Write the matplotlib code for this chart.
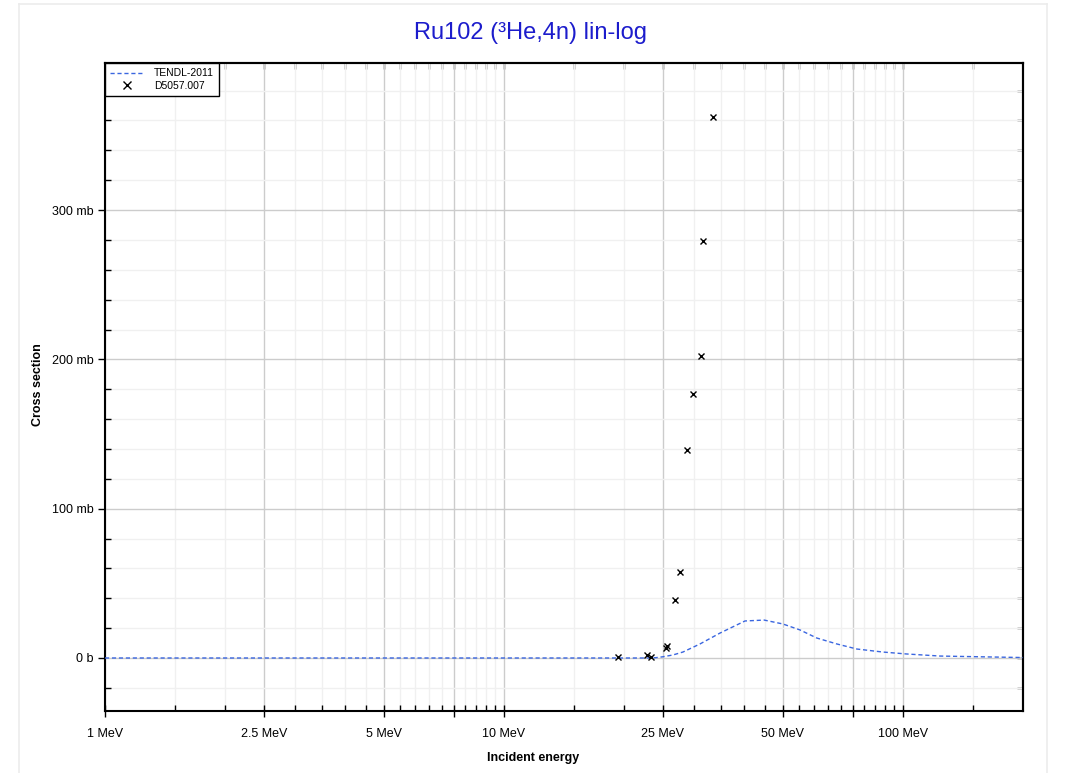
import matplotlib
matplotlib.use("Agg")
import matplotlib.pyplot as plt
from matplotlib.ticker import FixedLocator, FixedFormatter, NullFormatter
from matplotlib.lines import Line2D

plt.rcParams['font.family'] = ['Liberation Sans', 'DejaVu Sans']

# TENDL-2011 evaluated curve (MeV, mb)
tendl_energy = [1, 2, 5, 10, 15, 20, 23, 24, 25, 26.5, 28.1, 31, 34.8, 40.2, 44.9, 50, 55.2, 60.8, 68.3, 76.7, 89, 102, 124, 150, 200]
tendl_xs = [0, 0, 0, 0, 0, 0, 0, 0.2, 0.8, 2.0, 4.0, 9.4, 16.7, 24.8, 25.4, 22.8, 18.8, 13.4, 9.4, 6.0, 4.0, 2.7, 1.3, 0.9, 0.3]

# EXFOR D5057.007 data points (MeV, mb)
exp_energy = [19.3, 22.8, 23.4, 25.5, 25.6, 26.8, 27.6, 28.7, 29.8, 31.2, 31.5, 33.4]
exp_xs = [0.7, 2.0, 0.7, 6.7, 8.0, 39.0, 57.6, 139.0, 177.0, 202.0, 279.0, 362.0]

x_major = [1, 2.5, 5, 7.5, 10, 25, 50, 75, 100]
x_major_labels = ['1 MeV', '2.5 MeV', '5 MeV', '', '10 MeV', '25 MeV', '50 MeV', '', '100 MeV']
x_minor = [1.5, 2, 3, 3.5, 4, 4.5, 5.5, 6, 6.5, 7, 8, 8.5, 9, 9.5,
           15, 20, 30, 35, 40, 45, 55, 60, 65, 70, 80, 85, 90, 95, 150]
y_major = [0, 100, 200, 300]
y_major_labels = ['0 b', '100 mb', '200 mb', '300 mb']
y_minor = [-20, 20, 40, 60, 80, 120, 140, 160, 180, 220, 240, 260, 280, 320, 340, 360, 380]

W, H = 1071, 773
fig = plt.figure(figsize=(10.71, 7.73), dpi=100)
ax = fig.add_axes([105/W, 62/H, (1023-105)/W, (711-63)/H])

# outer light border
for xs, ys in [([19/W, 19/W], [0, 1-4/H]), ([19/W, 1047/W], [1-4/H, 1-4/H]), ([1047/W, 1047/W], [1-4/H, 0])]:
    fig.add_artist(Line2D(xs, ys, color='#ececec', lw=1.2, transform=fig.transFigure))

ax.plot(tendl_energy, tendl_xs, color='#3a66e0', lw=1.0, ls=(0, (3, 2)), label='TENDL-2011', zorder=3)
ax.plot(exp_energy, exp_xs, ls='none', marker='x', color='black', ms=3.8, mew=1.0, label='D5057.007', zorder=4)

ax.set_xscale('log')
ax.set_xlim(1, 200)
ax.set_ylim(-35.5, 398.5)

ax.xaxis.set_major_locator(FixedLocator(x_major))
ax.xaxis.set_major_formatter(FixedFormatter(x_major_labels))
ax.xaxis.set_minor_locator(FixedLocator(x_minor))
ax.xaxis.set_minor_formatter(NullFormatter())
ax.yaxis.set_major_locator(FixedLocator(y_major))
ax.yaxis.set_major_formatter(FixedFormatter(y_major_labels))
ax.yaxis.set_minor_locator(FixedLocator(y_minor))

ax.grid(which='major', color='#cccccc', lw=1.0, zorder=0)
ax.grid(which='minor', color='#f0f0f0', lw=1.0, zorder=0)
ax.set_axisbelow(True)

ax.tick_params(axis='x', which='major', direction='inout', length=8, width=1, labelsize=9, pad=8, colors='black')
ax.tick_params(axis='x', which='minor', direction='in', length=4, width=1)
ax.tick_params(axis='y', which='major', direction='out', length=5, width=1, labelsize=9, pad=3)
ax.tick_params(axis='y', which='minor', direction='in', length=4, width=1)

for s in ax.spines.values():
    s.set_linewidth(1.5)
    s.set_color('black')

# inward ticks on top and right
secx = ax.secondary_xaxis('top')
secx.xaxis.set_major_locator(FixedLocator(x_major))
secx.xaxis.set_minor_locator(FixedLocator(x_minor))
secx.xaxis.set_major_formatter(NullFormatter())
secx.xaxis.set_minor_formatter(NullFormatter())
secx.tick_params(which='both', direction='in', length=4, width=1)
secx.spines['top'].set_linewidth(1.5)

secy = ax.secondary_yaxis('right')
secy.yaxis.set_major_locator(FixedLocator(y_major))
secy.yaxis.set_minor_locator(FixedLocator(y_minor))
secy.yaxis.set_major_formatter(NullFormatter())
secy.yaxis.set_minor_formatter(NullFormatter())
secy.tick_params(which='both', direction='in', length=4, width=1)
secy.spines['right'].set_linewidth(1.5)

ax.set_xlabel('Incident energy', fontsize=9, fontweight='bold')
ax.set_ylabel('Cross section', fontsize=9, fontweight='bold')
# place labels at reference pixel positions
ax_w = (1023-105)
ax_h = (711-63)
ax.xaxis.set_label_coords((533-105)/ax_w, -(758-711)/ax_h)
ax.yaxis.set_label_coords(-(105-38)/ax_w, (711-385)/ax_h)
ax.xaxis.label.set_va('center')
ax.yaxis.label.set_va('center')

fig.text(530/W, 1-33/H, 'Ru102 (³He,4n) lin-log', color='#1c1ccc', fontsize=17, ha='center', va='center')

leg = ax.legend(loc='upper left', borderaxespad=0, fontsize=7.5, frameon=True, fancybox=False,
                edgecolor='black', handlelength=3.2, borderpad=0.5, labelspacing=0.25, handletextpad=1.0,
                markerscale=1.5)
leg.get_frame().set_linewidth(1.0)
leg.get_frame().set_alpha(1)

fig.savefig('out.png', dpi=100, facecolor='white')
